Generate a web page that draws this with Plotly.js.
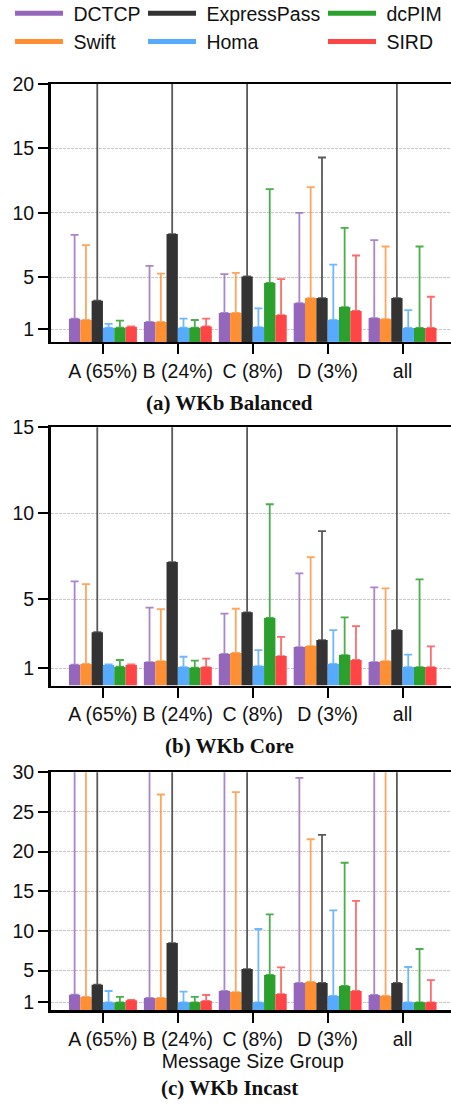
<!DOCTYPE html>
<html><head><meta charset="utf-8">
<script src="https://cdn.plot.ly/plotly-3.0.1.min.js"></script>
<style>html,body{margin:0;padding:0;overflow:hidden;background:#fff}</style>
</head><body><div id="chart"></div>
<script>
// ---------- data ----------
const categories = ["A (65%)", "B (24%)", "C (8%)", "D (3%)", "all"];
const seriesNames = ["DCTCP", "Swift", "ExpressPass", "Homa", "dcPIM", "SIRD"];
const panelTitles = ["(a) WKb Balanced", "(b) WKb Core", "(c) WKb Incast"];
const xAxisTitle = "Message Size Group";
const tickValsA = [1, 5, 10, 15, 20];
const tickValsB = [1, 5, 10, 15];
const tickValsC = [1, 5, 10, 15, 20, 25, 30];

// (a) WKb Balanced: bar values and error-bar tops
const balanced_DCTCP = [1.8, 1.55, 2.24, 3.0, 1.85];
const balanced_Swift = [1.7, 1.55, 2.24, 3.4, 1.77];
const balanced_ExpressPass = [3.2, 8.36, 5.08, 3.4, 3.4];
const balanced_Homa = [1.1, 1.1, 1.15, 1.7, 1.08];
const balanced_dcPIM = [1.1, 1.1, 4.57, 2.7, 1.08];
const balanced_SIRD = [1.15, 1.2, 2.08, 2.4, 1.08];
const balancedTop_DCTCP = [8.3, 5.9, 5.26, 10.0, 7.9];
const balancedTop_Swift = [7.5, 5.3, 5.36, 12.0, 7.4];
const balancedTop_ExpressPass = [30, 30, 30, 14.3, 30];
const balancedTop_Homa = [1.4, 1.8, 2.6, 6.0, 2.47];
const balancedTop_dcPIM = [1.65, 1.7, 11.85, 8.85, 7.4];
const balancedTop_SIRD = [1.2, 1.8, 4.87, 6.7, 3.5];

// (b) WKb Core
const core_DCTCP = [1.21, 1.36, 1.83, 2.23, 1.36];
const core_Swift = [1.25, 1.42, 1.89, 2.29, 1.42];
const core_ExpressPass = [3.1, 7.17, 4.25, 2.64, 3.22];
const core_Homa = [1.19, 1.07, 1.13, 1.25, 1.07];
const core_dcPIM = [1.09, 1.03, 3.92, 1.77, 1.07];
const core_SIRD = [1.19, 1.07, 1.71, 1.48, 1.07];
const coreTop_DCTCP = [6.05, 4.52, 4.17, 6.51, 5.7];
const coreTop_Swift = [5.89, 4.44, 4.46, 7.46, 5.64];
const coreTop_ExpressPass = [25, 25, 25, 8.97, 25];
const coreTop_Homa = [1.22, 1.67, 2.06, 3.22, 1.79];
const coreTop_dcPIM = [1.48, 1.44, 10.53, 3.96, 6.16];
const coreTop_SIRD = [1.22, 1.56, 2.83, 3.45, 2.27];

// (c) WKb Incast
const incast_DCTCP = [1.97, 1.55, 2.43, 3.44, 1.93];
const incast_Swift = [1.68, 1.55, 2.3, 3.57, 1.8];
const incast_ExpressPass = [3.23, 8.48, 5.2, 3.44, 3.44];
const incast_Homa = [1.0, 1.0, 1.0, 1.8, 1.0];
const incast_dcPIM = [1.0, 1.0, 4.45, 3.06, 1.0];
const incast_SIRD = [1.26, 1.17, 2.05, 2.43, 1.0];
const incastTop_DCTCP = [40, 40, 40, 29.3, 40];
const incastTop_Swift = [40, 27.2, 27.5, 21.56, 40];
const incastTop_ExpressPass = [40, 40, 40, 22.1, 40];
const incastTop_Homa = [2.43, 2.35, 10.25, 12.6, 5.46];
const incastTop_dcPIM = [1.68, 1.68, 12.1, 18.6, 7.73];
const incastTop_SIRD = [1.3, 1.93, 5.42, 13.8, 3.8];

// ---------- style ----------
const colors = ["#9467bd", "#ff8f33", "#333333", "#56abff", "#2ca02c", "#ff4545"];
const errColors = ["rgba(148,103,189,0.8)", "rgba(255,143,51,0.8)", "rgba(60,60,60,0.85)",
                   "rgba(86,171,255,0.85)", "rgba(44,160,44,0.85)", "rgba(255,69,69,0.8)"];
const SANS = "Liberation Sans, Arial, sans-serif";
const SERIF = "Liberation Serif, Times New Roman, serif";
const FS = 19.5;

const W = 458, H = 1105;
const panels = [
  {bars: [balanced_DCTCP, balanced_Swift, balanced_ExpressPass, balanced_Homa, balanced_dcPIM, balanced_SIRD],
   tops: [balancedTop_DCTCP, balancedTop_Swift, balancedTop_ExpressPass, balancedTop_Homa, balancedTop_dcPIM, balancedTop_SIRD],
   ticks: tickValsA, range: [0, 20], top: 84, bottom: 341.9, titleY: 403},
  {bars: [core_DCTCP, core_Swift, core_ExpressPass, core_Homa, core_dcPIM, core_SIRD],
   tops: [coreTop_DCTCP, coreTop_Swift, coreTop_ExpressPass, coreTop_Homa, coreTop_dcPIM, coreTop_SIRD],
   ticks: tickValsB, range: [0, 15], top: 427.3, bottom: 685.5, titleY: 745.5},
  {bars: [incast_DCTCP, incast_Swift, incast_ExpressPass, incast_Homa, incast_dcPIM, incast_SIRD],
   tops: [incastTop_DCTCP, incastTop_Swift, incastTop_ExpressPass, incastTop_Homa, incastTop_dcPIM, incastTop_SIRD],
   ticks: tickValsC, range: [0, 30], top: 772.3, bottom: 1010.3, titleY: 1088}
];

const traces = [];
const layout = {
  width: W, height: H,
  margin: {l: 0, r: 0, t: 0, b: 0, autoexpand: false},
  paper_bgcolor: "#fff", plot_bgcolor: "#fff",
  barmode: "group", bargap: 0.093, bargroupgap: 0,
  font: {family: SANS, size: FS, color: "#111"},
  showlegend: true,
  annotations: []
};

const xDom = [50.5 / W, 455 / W];
panels.forEach((p, pi) => {
  const sfx = pi === 0 ? "" : String(pi + 1);
  p.bars.forEach((vals, si) => {
    traces.push({
      type: "bar", x: categories, y: vals,
      xaxis: "x" + sfx, yaxis: "y" + sfx,
      name: seriesNames[si], showlegend: false,
      marker: {color: colors[si], line: {width: 0}},
      error_y: {type: "data", symmetric: false,
        array: vals.map((v, k) => p.tops[si][k] - v),
        arrayminus: vals.map(() => 0),
        color: errColors[si], thickness: 1.8, width: 4},
      hoverinfo: "skip"
    });
  });
  layout["xaxis" + sfx] = {
    domain: xDom, anchor: "y" + sfx,
    type: "category", range: [-0.7, 4.7],
    showline: true, linecolor: "#000", linewidth: 2.5, mirror: true,
    ticks: "outside", ticklen: 10, tickwidth: 2, tickcolor: "#000",
    showgrid: false, zeroline: false,
    tickfont: {family: SANS, size: FS, color: "#111"},
    title: pi === 2 ? {text: xAxisTitle, font: {family: SANS, size: FS, color: "#111"}, standoff: 0} : {text: ""}
  };
  layout["yaxis" + sfx] = {
    domain: [1 - p.bottom / H, 1 - p.top / H], anchor: "x" + sfx,
    range: p.range, tickvals: p.ticks, ticktext: p.ticks.map(String),
    showline: true, linecolor: "#000", linewidth: 2.5, mirror: true,
    ticks: "outside", ticklen: 10, tickwidth: 2, tickcolor: "#000",
    showgrid: true, gridcolor: "#c8c8c8", gridwidth: 1, griddash: "3px,1px",
    zeroline: false,
    tickfont: {family: SANS, size: FS, color: "#111"}
  };
  layout.annotations.push({
    text: "<b>" + panelTitles[pi] + "</b>", xref: "paper", yref: "paper",
    x: 230 / W, y: 1 - p.titleY / H, xanchor: "center", yanchor: "middle",
    showarrow: false, font: {family: SERIF, size: 21, color: "#111"}
  });
});

// legend entries (three column legends, line samples)
const legendCols = [["legend", [0, 1]], ["legend2", [2, 3]], ["legend3", [4, 5]]];
const legendX = [10, 143, 323];
legendCols.forEach(([lg, idxs], ci) => {
  idxs.forEach(si => {
    traces.push({
      type: "scatter", mode: "lines", x: [null], y: [null],
      xaxis: "x", yaxis: "y",
      name: "\u00a0" + seriesNames[si], legend: lg, showlegend: true,
      line: {color: colors[si], width: 5}, hoverinfo: "skip"
    });
  });
  layout[lg] = {
    x: legendX[ci] / W, y: 1 + 6 / H, xanchor: "left", yanchor: "top",
    orientation: "v", bgcolor: "rgba(0,0,0,0)", borderwidth: 0,
    font: {family: SANS, size: FS, color: "#111"},
    itemwidth: 48, tracegroupgap: 0
  };
});

Plotly.newPlot("chart", traces, layout, {displayModeBar: false, staticPlot: true});
</script>
</body></html>
